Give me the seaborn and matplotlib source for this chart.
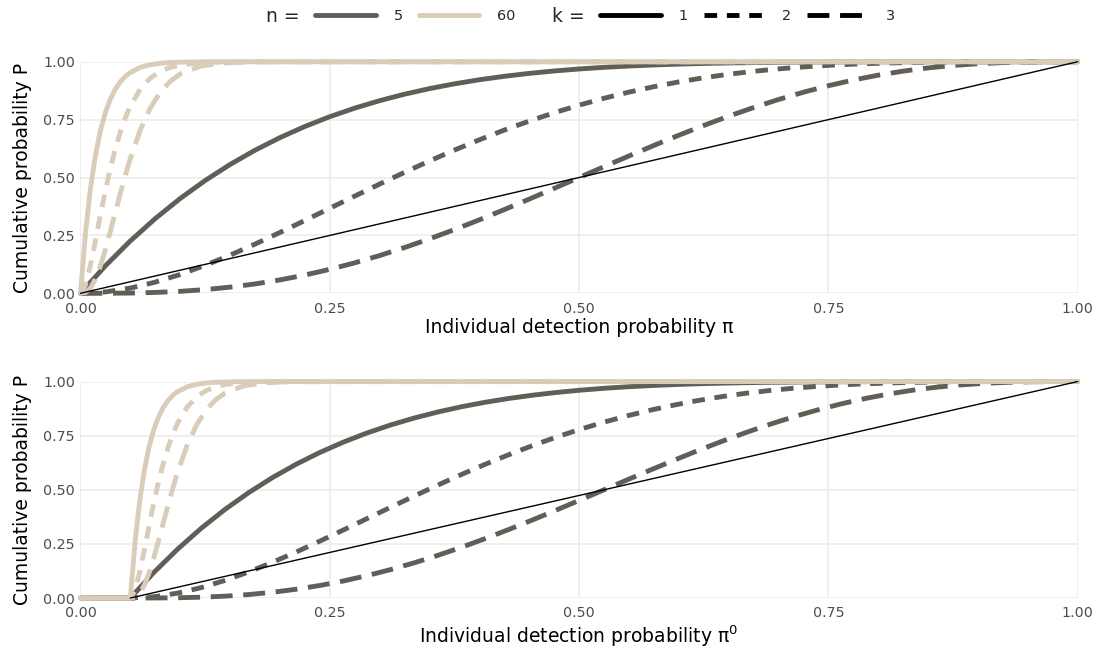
import matplotlib
matplotlib.use("Agg")
import matplotlib.pyplot as plt
from matplotlib.lines import Line2D
import pandas as pd
import seaborn as sns

# Group sizes (n) and detection thresholds (k)
n_levels = ["5", "60"]
k_levels = ["1", "2", "3"]
n_colors = ["#625E57", "#D9CCBA"]

# Individual detection probability grid for n = 5
pi_n5 = [0.000, 0.025, 0.050, 0.075, 0.100, 0.125, 0.150, 0.175, 0.200, 0.225,
         0.250, 0.275, 0.300, 0.325, 0.350, 0.375, 0.400, 0.425, 0.450, 0.475,
         0.500, 0.525, 0.550, 0.575, 0.600, 0.625, 0.650, 0.675, 0.700, 0.725,
         0.750, 0.775, 0.800, 0.825, 0.850, 0.875, 0.900, 0.925, 0.950, 0.975, 1.000]
p5_k1 = [0.0, 0.1189, 0.2262, 0.3228, 0.4095, 0.4871, 0.5563, 0.6178, 0.6723, 0.7204,
         0.7627, 0.7997, 0.8319, 0.8599, 0.8840, 0.9046, 0.9222, 0.9371, 0.9497, 0.9601,
         0.9688, 0.9758, 0.9815, 0.9861, 0.9898, 0.9926, 0.9947, 0.9964, 0.9976, 0.9984,
         0.9990, 0.9994, 0.9997, 0.9998, 0.9999, 1.0, 1.0, 1.0, 1.0, 1.0, 1.0]
p5_k2 = [0.0, 0.0059, 0.0226, 0.0483, 0.0815, 0.1207, 0.1648, 0.2125, 0.2627, 0.3146,
         0.3672, 0.4198, 0.4718, 0.5225, 0.5716, 0.6185, 0.6630, 0.7049, 0.7438, 0.7797,
         0.8125, 0.8422, 0.8688, 0.8923, 0.9130, 0.9308, 0.9460, 0.9587, 0.9692, 0.9777,
         0.9844, 0.9895, 0.9933, 0.9960, 0.9978, 0.9989, 0.9995, 0.9999, 1.0, 1.0, 1.0]
p5_k3 = [0.0, 0.0002, 0.0012, 0.0038, 0.0086, 0.0161, 0.0266, 0.0405, 0.0579, 0.0789,
         0.1035, 0.1316, 0.1631, 0.1977, 0.2352, 0.2752, 0.3174, 0.3615, 0.4069, 0.4532,
         0.5000, 0.5468, 0.5931, 0.6385, 0.6826, 0.7248, 0.7648, 0.8023, 0.8369, 0.8684,
         0.8965, 0.9211, 0.9421, 0.9595, 0.9734, 0.9839, 0.9914, 0.9962, 0.9988, 0.9999, 1.0]

# Individual detection probability grid for n = 60
pi_n60 = [0.000, 0.005, 0.010, 0.015, 0.020, 0.025, 0.030, 0.035, 0.040, 0.045, 0.050,
          0.060, 0.070, 0.080, 0.090, 0.100, 0.120, 0.140, 0.160, 0.180, 1.000]
p60_k1 = [0.0, 0.2597, 0.4528, 0.5962, 0.7024, 0.7811, 0.8392, 0.8821, 0.9136, 0.9369, 0.9539,
          0.9756, 0.9871, 0.9933, 0.9965, 0.9982, 0.9995, 0.9999, 1.0, 1.0, 1.0]
p60_k2 = [0.0, 0.0366, 0.1212, 0.2272, 0.3381, 0.4443, 0.5408, 0.6254, 0.6978, 0.7584, 0.8084,
          0.8821, 0.9291, 0.9582, 0.9758, 0.9862, 0.9957, 0.9987, 0.9996, 0.9999, 1.0]
p60_k3 = [0.0, 0.0035, 0.0224, 0.0615, 0.1187, 0.1895, 0.2685, 0.3508, 0.4324, 0.5103, 0.5826,
          0.7060, 0.8002, 0.8683, 0.9154, 0.9470, 0.9804, 0.9932, 0.9978, 0.9993, 1.0]

# Same grids on the pi0 scale (nothing is detected below pi0 = 0.05)
pi0_n5 = [0.0, 0.05, 0.07375, 0.0975, 0.12125, 0.145, 0.16875, 0.1925, 0.21625, 0.24, 0.26375,
          0.2875, 0.31125, 0.335, 0.35875, 0.3825, 0.40625, 0.43, 0.45375, 0.4775, 0.50125,
          0.525, 0.54875, 0.5725, 0.59625, 0.62, 0.64375, 0.6675, 0.69125, 0.715, 0.73875,
          0.7625, 0.78625, 0.81, 0.83375, 0.8575, 0.88125, 0.905, 0.92875, 0.9525, 0.97625, 1.0]
pi0_n60 = [0.0, 0.05, 0.05475, 0.0595, 0.06425, 0.069, 0.07375, 0.0785, 0.08325, 0.088, 0.09275,
           0.0975, 0.107, 0.1165, 0.126, 0.1355, 0.145, 0.164, 0.183, 0.202, 0.221, 1.0]

# Reference lines P = pi
ref_top_x = [0.0, 1.0]
ref_top_y = [0.0, 1.0]
ref_bottom_x = [0.05, 1.0]
ref_bottom_y = [0.0, 1.0]

tick_values = [0.0, 0.25, 0.5, 0.75, 1.0]
tick_labels = ["0.00", "0.25", "0.50", "0.75", "1.00"]

LW = 3.5
dash_specs = ["", (2.6, 2.0), (4.5, 2.2)]


def panel_frame(x_n5, x_n60, curves_n5, curves_n60):
    parts = []
    for n_label, xs, curves in ((n_levels[0], x_n5, curves_n5),
                                (n_levels[1], x_n60, curves_n60)):
        for k_label, ys in zip(k_levels, curves):
            parts.append(pd.DataFrame({"x": xs, "P": ys, "n": n_label, "k": k_label}))
    return pd.concat(parts, ignore_index=True)


top_df = panel_frame(pi_n5, pi_n60, [p5_k1, p5_k2, p5_k3], [p60_k1, p60_k2, p60_k3])
bottom_df = panel_frame(pi0_n5, pi0_n60,
                        [[0.0] + c for c in (p5_k1, p5_k2, p5_k3)],
                        [[0.0] + c for c in (p60_k1, p60_k2, p60_k3)])

sns.set_theme(style="white")
plt.rcParams["font.family"] = ["DejaVu Sans"]
plt.rcParams["mathtext.fontset"] = "dejavusans"

fig = plt.figure(figsize=(10.98, 6.54), dpi=100)
ax_top = fig.add_axes([0.0733, 0.5515, 0.9082, 0.3541])
ax_bottom = fig.add_axes([0.0733, 0.0856, 0.9082, 0.3310])

palette = dict(zip(n_levels, n_colors))
dashes = dict(zip(k_levels, dash_specs))

panels = (
    (ax_top, top_df, ref_top_x, ref_top_y, "Individual detection probability π"),
    (ax_bottom, bottom_df, ref_bottom_x, ref_bottom_y, "Individual detection probability π$^0$"),
)

for ax, df, rx, ry, xlabel in panels:
    sns.lineplot(data=df, x="x", y="P", hue="n", style="k",
                 hue_order=n_levels, style_order=k_levels,
                 palette=palette, dashes=dashes, linewidth=LW,
                 estimator=None, sort=False, legend=False, ax=ax)
    sns.lineplot(x=rx, y=ry, color="black", linewidth=1.0, ax=ax)
    for line in ax.lines:
        line.set_clip_on(False)

    ax.set_xlim(0, 1)
    ax.set_ylim(0, 1)
    ax.set_xticks(tick_values)
    ax.set_xticklabels(tick_labels)
    ax.set_yticks(tick_values)
    ax.set_yticklabels(tick_labels)
    ax.grid(True, color="#EBEBEB", linewidth=1.1)
    ax.set_axisbelow(True)
    for spine in ax.spines.values():
        spine.set_visible(False)
    ax.tick_params(length=0, labelsize=10.3, labelcolor="#4D4D4D")
    ax.tick_params(axis="x", pad=6)
    ax.tick_params(axis="y", pad=4)
    ax.set_xlabel(xlabel, fontsize=13.5, color="black", labelpad=2)
    ax.set_ylabel("Cumulative probability P", fontsize=13.5, color="black", labelpad=8)

# Legend across the top: colour for n, line type for k
legend_y = 1 - 16 / 654
common = dict(frameon=False, loc="center left", borderpad=0, borderaxespad=0,
              handlelength=4.2, handletextpad=1.25, columnspacing=1.1,
              fontsize=10.4)

n_handles = [Line2D([], [], color=c, linewidth=LW) for c in n_colors]
leg_n = fig.legend(n_handles, n_levels, ncol=2,
                   bbox_to_anchor=(315 / 1098, legend_y), **common)
k_handles = [Line2D([], [], color="black", linewidth=LW, linestyle="-")]
for spec in dash_specs[1:]:
    k_handles.append(Line2D([], [], color="black", linewidth=LW, linestyle=(0, spec)))
leg_k = fig.legend(k_handles, k_levels, ncol=3,
                   bbox_to_anchor=(600 / 1098, legend_y), **common)

fig.text(300 / 1098, legend_y, "n =", ha="right", va="center", fontsize=13.5)
fig.text(585 / 1098, legend_y, "k =", ha="right", va="center", fontsize=13.5)

fig.savefig("out.png", dpi=100, facecolor="white")
